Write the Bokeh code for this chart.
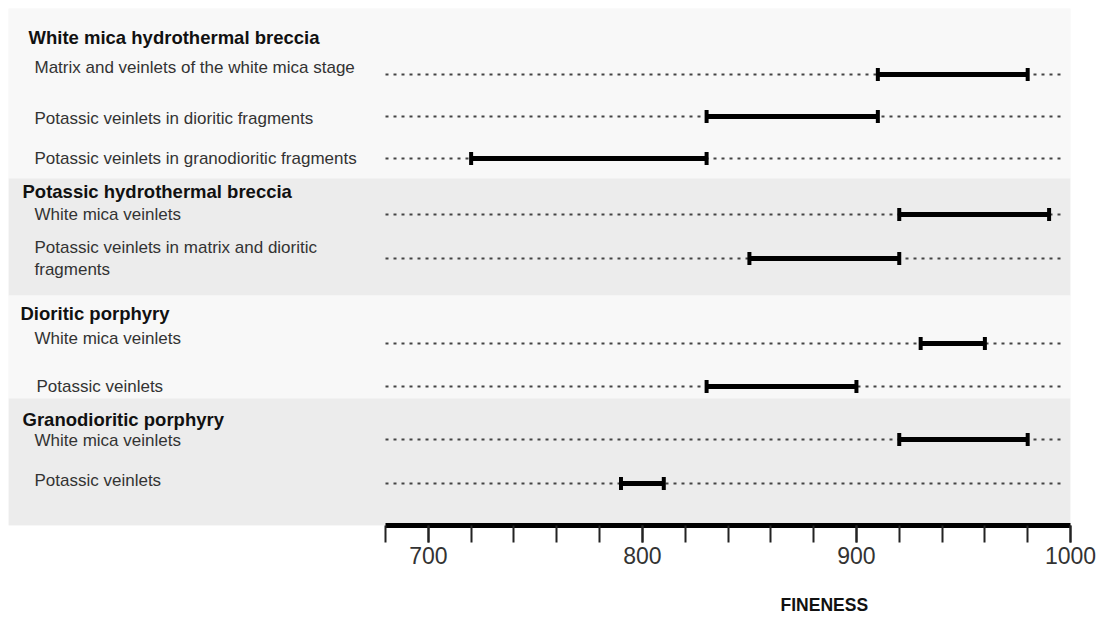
from bokeh.plotting import figure
from bokeh.models import Range1d, LinearAxis, FixedTicker, ColumnDataSource
from bokeh.core.properties import value
from bokeh.embed import file_html
from bokeh.resources import INLINE

# ---- data ----
groups = ["White mica hydrothermal breccia", "Potassic hydrothermal breccia",
          "Dioritic porphyry", "Granodioritic porphyry"]
items = ["Matrix and veinlets of the white mica stage",
         "Potassic veinlets in dioritic fragments",
         "Potassic veinlets in granodioritic fragments",
         "White mica veinlets",
         "Potassic veinlets in matrix and dioritic\nfragments",
         "White mica veinlets",
         "Potassic veinlets",
         "White mica veinlets",
         "Potassic veinlets"]
fin_lo = [910, 830, 720, 920, 850, 930, 830, 920, 790]
fin_hi = [980, 910, 830, 990, 920, 960, 900, 980, 810]
major_ticks = [700, 800, 900, 1000]
minor_ticks = list(range(680, 1001, 20))
axis_min, axis_max = 680, 1000
x_title = "FINENESS"

# ---- layout (pixel-like vertical units, top of frame = 0) ----
row_y = [66, 108, 150, 206, 250, 335, 378, 431, 475]
item_text_y = [59, 110, 150, 206, 250, 330, 378, 432, 472]
item_px = [26, 26, 26, 26, 26, 26, 28, 26, 26]
group_y = [29, 183, 305, 411]
group_px = [20, 14, 12, 14]
band_edges = [(0, 170, "#f8f8f8"), (170, 287, "#ececec"),
              (287, 390, "#f8f8f8"), (390, 517, "#ececec")]
title_pos = 885   # where the x title sits along the axis

FW, FH = 1062, 517
scale = (1070 - 385) / (axis_max - axis_min)
x_start = axis_min - (385 - 8) / scale

def px(dx):
    return x_start + dx / scale

p = figure(width=1100, height=618, output_backend="svg", toolbar_location=None,
           x_range=Range1d(x_start, axis_max), y_range=Range1d(FH, 0),
           min_border_left=8, min_border_right=30, min_border_top=8, min_border_bottom=93)
p.xaxis.visible = False
p.yaxis.visible = False
p.xgrid.visible = False
p.ygrid.visible = False
p.outline_line_color = None
p.background_fill_color = "#f8f8f8"
p.border_fill_color = "white"

for y0, y1, c in band_edges:
    p.quad(left=x_start, right=axis_max, top=y0, bottom=y1, fill_color=c, line_color=None)

# dashed guide lines
p.segment(x0=[axis_min] * len(row_y), x1=[997] * len(row_y), y0=row_y, y1=row_y,
          line_color="#444444", line_width=1.8, line_dash="3 5")

# range bars
src = ColumnDataSource(dict(lo=fin_lo, hi=fin_hi, y=row_y,
                            ytop=[y - 6.5 for y in row_y], ybot=[y + 6.5 for y in row_y]))
p.segment(x0="lo", x1="hi", y0="y", y1="y", source=src, line_color="black", line_width=5)
p.segment(x0="lo", x1="lo", y0="ytop", y1="ybot", source=src, line_color="black", line_width=4)
p.segment(x0="hi", x1="hi", y0="ytop", y1="ybot", source=src, line_color="black", line_width=4)

# item labels
p.text(x=[px(d) for d in item_px], y=item_text_y, text=items,
       text_font=value("Liberation Sans"), text_font_size="17px", text_color="#333333",
       text_baseline="middle", text_align="left", text_line_height=1.15)
# group titles
p.text(x=[px(d) for d in group_px], y=group_y, text=groups,
       text_font=value("Liberation Sans"), text_font_size="18.5px", text_font_style="bold",
       text_color="#111111", text_baseline="middle", text_align="left")

ax = LinearAxis(bounds=(axis_min, axis_max),
                ticker=FixedTicker(ticks=major_ticks, minor_ticks=minor_ticks))
ax.axis_line_width = 5
ax.axis_line_color = "black"
ax.major_tick_out = 17
ax.major_tick_in = 0
ax.minor_tick_out = 17
ax.minor_tick_in = 0
ax.major_tick_line_width = 2
ax.minor_tick_line_width = 2
ax.major_tick_line_color = "#222222"
ax.minor_tick_line_color = "#222222"
ax.major_label_text_font = "Liberation Sans"
ax.major_label_text_font_size = "23px"
ax.major_label_text_color = "#333333"
ax.major_label_standoff = 4
p.add_layout(ax, "below")

# second, bare axis whose single label is the x title
ax2 = LinearAxis(ticker=FixedTicker(ticks=[title_pos], minor_ticks=[]),
                 major_label_overrides={title_pos: x_title},
                 axis_line_color=None, major_tick_line_color=None, minor_tick_line_color=None,
                 major_tick_out=0, major_tick_in=0, minor_tick_out=0, minor_tick_in=0,
                 major_label_standoff=28, major_label_text_font="Liberation Sans",
                 major_label_text_font_size="17.5px", major_label_text_font_style="bold",
                 major_label_text_color="#111111")
p.add_layout(ax2, "below")

open("out.html", "w").write(file_html(p, INLINE))
